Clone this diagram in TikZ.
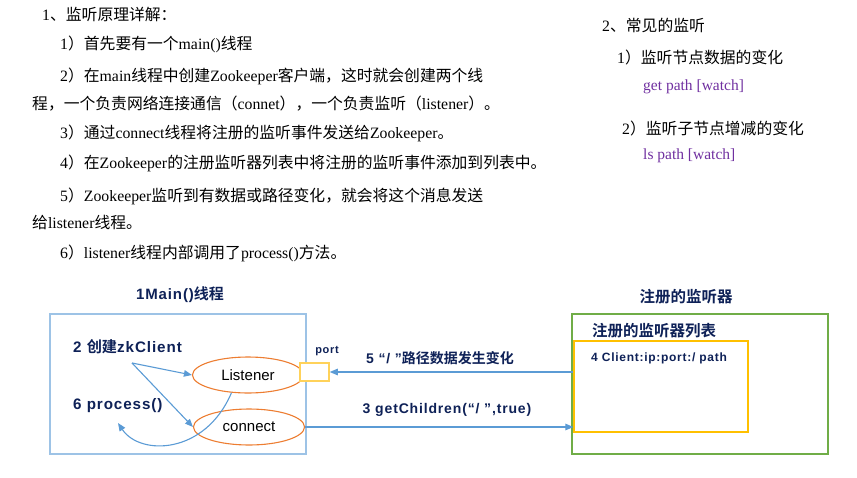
\documentclass[tikz,border=0pt]{standalone}
\usepackage{fontspec}
\usetikzlibrary{shapes.geometric,arrows.meta}
\setmainfont{Liberation Serif}
\newfontfamily\cjk{Noto Sans CJK SC}[BoldFont={Noto Sans CJK SC Bold}]
\newfontfamily\arb{Liberation Sans}[LetterSpace=6]
\newfontfamily\arr{Liberation Sans}
\newcommand\C[1]{{\cjk #1}}
\newcommand\CB[1]{{\cjk\bfseries #1}}
\definecolor{navy}{RGB}{14,33,87}
\definecolor{arrblue}{RGB}{91,155,213}
\definecolor{boxblue}{RGB}{157,195,230}
\definecolor{ellorange}{RGB}{237,125,49}
\definecolor{gold}{RGB}{255,192,0}
\definecolor{portgold}{RGB}{255,210,90}
\definecolor{boxgreen}{RGB}{112,173,71}
\definecolor{purp}{RGB}{112,48,160}
\begin{document}
\begin{tikzpicture}[x=1pt,y=-1pt,
  toptext/.style={anchor=west,inner sep=0pt,font=\fontsize{15.8}{18}\selectfont},
  cmdtext/.style={anchor=west,inner sep=0pt,text=purp,font=\fontsize{15.5}{18}\selectfont},
  diag/.style={inner sep=0pt,text=navy,font=\fontsize{14}{16}\selectfont\arb\bfseries},
  ell/.style={ellipse,draw=ellorange,line width=1.1pt,fill=white,minimum width=111pt,minimum height=36pt,inner sep=0pt,font=\fontsize{15}{17}\selectfont\arr},
  con/.style={draw=arrblue,line width=1.1pt,-{Triangle[length=8pt,width=6.5pt]}}
]
\useasboundingbox (0,0) rectangle (857,477);
% top-left explanation
\node[toptext] (t1) at (42,14) {1\C{、监听原理详解：}};
\node[toptext] (t2) at (60,44) {1\C{）首先要有一个}main()\C{线程}};
\node[toptext] (t3) at (60,76) {2\C{）在}main\C{线程中创建}Zookeeper\C{客户端，这时就会创建两个线}};
\node[toptext] (t4) at (32,104) {\C{程，一个负责网络连接通信（}connet\C{），一个负责监听（}listener\C{）。}};
\node[toptext] (t5) at (60,133) {3\C{）通过}connect\C{线程将注册的监听事件发送给}Zookeeper\C{。}};
\node[toptext] (t6) at (60,163) {4\C{）在}Zookeeper\C{的注册监听器列表中将注册的监听事件添加到列表中。}};
\node[toptext] (t7) at (60,196) {5\C{）}Zookeeper\C{监听到有数据或路径变化，就会将这个消息发送}};
\node[toptext] (t8) at (32,222) {\C{给}listener\C{线程。}};
\node[toptext] (t9) at (60,253) {6\C{）}listener\C{线程内部调用了}process()\C{方法。}};
% top-right
\node[toptext] (r1) at (602,25) {2\C{、常见的监听}};
\node[toptext] (r2) at (617,57) {1\C{）监听节点数据的变化}};
\node[cmdtext] (r3) at (643,87) {get path [watch]};
\node[toptext] (r4) at (622,128) {2\C{）监听子节点增减的变化}};
\node[cmdtext] (r5) at (643,156) {ls path [watch]};
% diagram: main thread
\node[diag,font=\fontsize{15}{17}\selectfont\arb\bfseries] (tmain) at (180,295) {1Main()\CB{线程}};
\node[draw=boxblue,line width=1.8pt,minimum width=256pt,minimum height=140pt,inner sep=0pt] (mainbox) at (178,384) {};
\node[diag,anchor=west,font=\fontsize{15.2}{17}\selectfont\arb\bfseries] (create) at (73,347) {2 \CB{创建}zkClient};
\node[diag,anchor=west,font=\fontsize{15.2}{17}\selectfont\arb\bfseries] (proc) at (73,406) {6 process()};
\node[ell] (lis) at (248,375) {Listener};
\node[ell] (conn) at (249,427) {connect};
\coordinate (c2) at (132,363);
\coordinate (p6) at (118,423);
\draw[con] (c2) -- (lis.west);
\draw[con] (c2) -- (conn.west);
\draw[con] (lis.227) .. controls (205,455) and (140,456) .. (p6);
% port
\node[draw=portgold,line width=1.5pt,fill=white,minimum width=29pt,minimum height=18pt,inner sep=0pt] (port) at (314.5,372) {};
\node[diag,font=\fontsize{11}{13}\selectfont\arb\bfseries] (portlbl) at (327,351) {port};
% registry
\node[diag,font=\fontsize{15.5}{17}\selectfont\bfseries] (treg) at (686,297) {\CB{注册的监听器}};
\node[draw=boxgreen,line width=1.2pt,minimum width=256pt,minimum height=140pt,inner sep=0pt] (regbox) at (700,384) {};
\node[diag,anchor=west,font=\fontsize{15.5}{17}\selectfont\bfseries] (tlist) at (592,331) {\CB{注册的监听器列表}};
\node[draw=gold,line width=1.2pt,minimum width=174pt,minimum height=91pt,inner sep=0pt] (list) at (661,386.5) {};
\node[diag,anchor=west,font=\fontsize{12}{14}\selectfont\arb\bfseries] (entry) at (591,358) {4 Client:ip:port:/ path};
% messages
\draw[con] (port.east -| list.west) -- (port.east);
\draw[con] (conn.east) -- (conn.east -| list.west);
\node[diag] (m5) at (440,358) {5 “/ ”\CB{路径数据发生变化}};
\node[diag] (m3) at (447,410) {3 getChildren(“/ ”,true)};
\end{tikzpicture}
\end{document}
